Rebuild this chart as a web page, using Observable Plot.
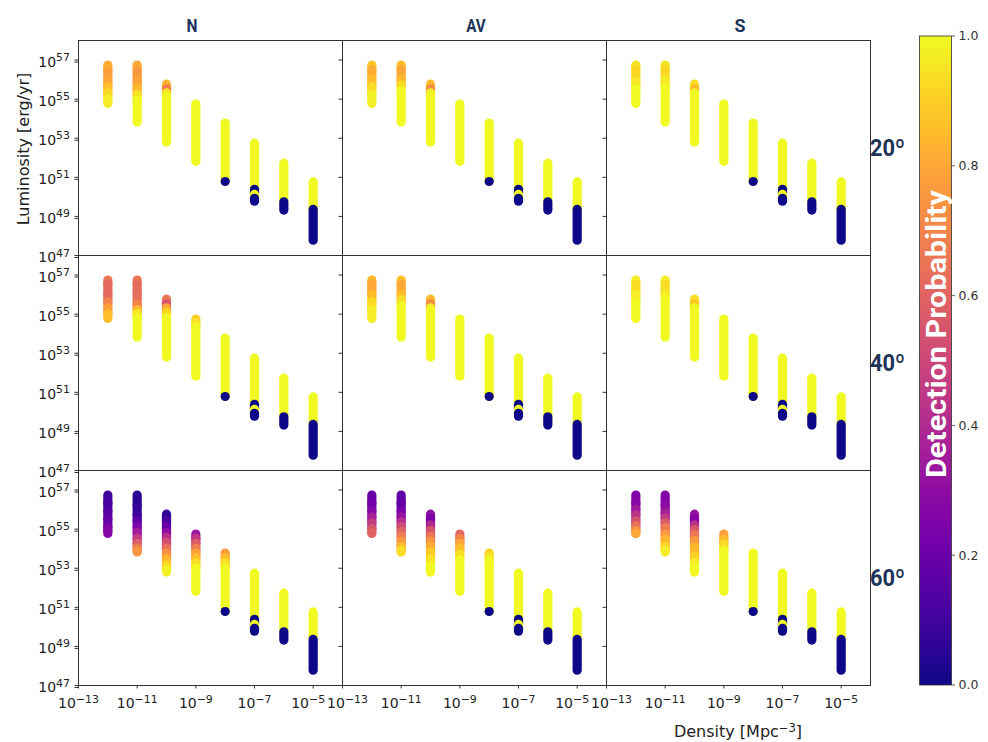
<!DOCTYPE html>
<html><head><meta charset="utf-8">
<script src="https://cdn.jsdelivr.net/npm/d3@7"></script>
<script src="https://cdn.jsdelivr.net/npm/@observablehq/plot@0.6"></script>
<style>
html,body{margin:0;padding:0;background:#fff;}
#wrap{position:relative;width:988px;height:742px;overflow:hidden;background:#fff;}
#wrap > svg{position:absolute;left:0;top:0;}
</style></head><body><div id="wrap"></div>
<script>
// ---------- data ----------
const columns = ["N", "AV", "S"];
const inclinations = ["20º", "40º", "60º"];
const densities = [1e-12, 1e-11, 1e-10, 1e-9, 1e-8, 1e-7, 1e-6, 1e-5];
// log10 luminosity of the lowest point in each density column
const lumBottom = [54.75, 53.81, 52.78, 51.8, 50.76, 49.75, 49.3, 47.76];
const xTicks = [1e-13, 1e-11, 1e-9, 1e-7, 1e-5];
const yTicks = [1e47, 1e49, 1e51, 1e53, 1e55, 1e57];
const probTicks = [0, 0.2, 0.4, 0.6, 0.8, 1.0];

// each stop: [log10 luminosity where a run starts (top), detection probability]
const stopsD5 = [[53.75, 1], [50.76, 0]];
const stopsD6 = [[52.72, 1], [50.36, 0], [50.1, 1], [49.9, 0]];
const stopsD7 = [[51.7, 1], [49.72, 0]];
const stopsD8 = [[50.74, 1], [49.33, 0]];

const N20 = [
  [[56.72, 0.82], [56.4, 0.78], [55.9, 0.8], [55.6, 0.86], [55.3, 0.92], [55.0, 0.97]],
  [[56.72, 0.8], [56.4, 0.76], [55.9, 0.79], [55.5, 0.85], [55.2, 0.95], [54.9, 1]],
  [[55.74, 0.83], [55.5, 0.68], [55.3, 0.95], [55.1, 1]],
  [[54.72, 1]],
  stopsD5
];
const AV20 = [
  [[56.72, 0.88], [56.5, 0.82], [56.0, 0.86], [55.6, 0.93], [55.2, 0.98]],
  [[56.72, 0.86], [56.5, 0.8], [56.0, 0.85], [55.7, 0.93], [55.4, 1]],
  [[55.74, 0.85], [55.5, 0.72], [55.3, 0.97], [55.1, 1]],
  [[54.72, 1]],
  stopsD5
];
const S20 = [
  [[56.72, 0.95], [56.5, 0.92], [55.9, 0.96], [55.5, 1]],
  [[56.72, 0.95], [56.5, 0.92], [56.0, 0.96], [55.6, 1]],
  [[55.74, 0.93], [55.5, 0.85], [55.3, 1]],
  [[54.72, 1]],
  stopsD5
];
const N40 = [
  [[56.72, 0.66], [56.5, 0.61], [56.0, 0.62], [55.6, 0.7], [55.3, 0.78], [55.0, 0.86]],
  [[56.72, 0.66], [56.5, 0.62], [56.0, 0.63], [55.5, 0.7], [55.2, 0.85], [55.0, 0.95], [54.8, 1]],
  [[55.74, 0.66], [55.5, 0.55], [55.3, 0.8], [55.05, 0.92], [54.8, 1]],
  [[54.72, 0.9], [54.5, 0.96], [54.3, 1]],
  stopsD5
];
const AV40 = [
  [[56.72, 0.84], [56.5, 0.8], [56.0, 0.86], [55.6, 0.93], [55.2, 0.97]],
  [[56.72, 0.86], [56.5, 0.8], [56.0, 0.86], [55.7, 0.93], [55.4, 1]],
  [[55.74, 0.84], [55.5, 0.72], [55.3, 0.97], [55.1, 1]],
  [[54.72, 1]],
  stopsD5
];
const S40 = [
  [[56.72, 0.97], [56.5, 0.93], [56.0, 0.97], [55.6, 1]],
  [[56.72, 0.97], [56.5, 0.93], [56.0, 0.97], [55.7, 1]],
  [[55.74, 0.93], [55.5, 0.88], [55.3, 1]],
  [[54.72, 1]],
  stopsD5
];
const N60 = [
  [[56.72, 0.1], [56.3, 0.12], [55.9, 0.15], [55.5, 0.19], [55.1, 0.23], [54.9, 0.27]],
  [[56.72, 0.05], [56.2, 0.07], [55.7, 0.1], [55.4, 0.17], [55.1, 0.25], [54.8, 0.35], [54.5, 0.47], [54.25, 0.58], [54.0, 0.68], [53.85, 0.75]],
  [[55.74, 0.07], [55.4, 0.12], [55.1, 0.2], [54.8, 0.3], [54.55, 0.42], [54.3, 0.53], [54.0, 0.64], [53.75, 0.74], [53.45, 0.84], [53.15, 0.92], [52.9, 0.98]],
  [[54.72, 0.33], [54.5, 0.45], [54.25, 0.56], [54.0, 0.68], [53.75, 0.78], [53.5, 0.86], [53.25, 0.94], [53.0, 1]],
  [[53.75, 0.77], [53.5, 0.86], [53.25, 0.94], [53.0, 1], [50.76, 0]]
];
const AV60 = [
  [[56.72, 0.2], [56.3, 0.22], [55.9, 0.28], [55.6, 0.36], [55.3, 0.46], [55.0, 0.55], [54.8, 0.6]],
  [[56.72, 0.17], [56.3, 0.19], [55.9, 0.24], [55.6, 0.32], [55.35, 0.42], [55.1, 0.52], [54.85, 0.6], [54.6, 0.68], [54.35, 0.76], [54.1, 0.85], [53.9, 0.93]],
  [[55.74, 0.3], [55.5, 0.24], [55.2, 0.4], [54.9, 0.55], [54.6, 0.66], [54.35, 0.75], [54.1, 0.82], [53.8, 0.89], [53.45, 0.95], [53.1, 1]],
  [[54.72, 0.6], [54.5, 0.7], [54.25, 0.79], [54.0, 0.87], [53.7, 0.94], [53.4, 1]],
  [[53.75, 0.92], [53.5, 0.97], [53.3, 1], [50.76, 0]]
];
const S60 = [
  [[56.72, 0.26], [56.3, 0.28], [56.0, 0.34], [55.7, 0.43], [55.4, 0.54], [55.15, 0.65], [54.9, 0.74], [54.75, 0.8]],
  [[56.72, 0.26], [56.2, 0.3], [55.8, 0.36], [55.55, 0.45], [55.3, 0.57], [55.05, 0.68], [54.7, 0.76], [54.45, 0.84], [54.1, 0.91], [53.9, 0.97]],
  [[55.74, 0.32], [55.5, 0.27], [55.2, 0.43], [54.95, 0.56], [54.7, 0.66], [54.4, 0.76], [54.05, 0.84], [53.6, 0.91], [53.25, 0.97], [53.0, 1]],
  [[54.72, 0.78], [54.45, 0.86], [54.2, 0.93], [53.9, 1]],
  stopsD5
];

// ---------- tables for Plot ----------
const panelStops = [N20, AV20, S20, N40, AV40, S40, N60, AV60, S60];
const runs = [];
panelStops.forEach((stops, k) => {
  const col = columns[k % 3], row = inclinations[Math.floor(k / 3)];
  [...stops, stopsD6, stopsD7, stopsD8].forEach((s, i) => {
    s.forEach(([l, p], j) => {
      const lo = j + 1 < s.length ? s[j + 1][0] : lumBottom[i];
      runs.push({col, row, density: densities[i], top: 10 ** l, bottom: 10 ** lo, p});
    });
  });
});

const sup = e => "10^" + (e < 0 ? "\u2212" + (-e) : e);
const fmt = d => sup(Math.round(Math.log10(d)));

// x tick labels for the bottom row; labels at shared panel edges nudged apart
const xLabels = columns.flatMap((c, ci) => xTicks.map(t => ({
  col: c, x: t, label: fmt(t),
  shift: (t === xTicks[0] && ci > 0) ? 1 : (t === xTicks[xTicks.length - 1] && ci < columns.length - 1) ? -1 : 0
})));
const bottomRow = inclinations[inclinations.length - 1];
const xLabelMark = (shift, dx) => Plot.text(xLabels.filter(d => d.shift === shift), {
  x: "x", text: "label", fx: "col", fy: () => bottomRow, frameAnchor: "bottom",
  lineAnchor: "top", dy: 13, dx, fontSize: 14, fill: "#222"
});

const chart = Plot.plot({
  width: 988, height: 742,
  marginLeft: 77, marginRight: 117, marginTop: 40, marginBottom: 57,
  style: {fontFamily: "'DejaVu Sans', sans-serif", fontSize: "14px", color: "#222", background: "transparent"},
  x: {type: "log", domain: [1e-13, 1e-4], label: null},
  y: {type: "log", domain: [1e47, 1e58], label: null},
  fx: {domain: columns, padding: 0, axis: null},
  fy: {domain: inclinations, padding: 0, axis: null},
  color: {type: "linear", scheme: "plasma", domain: [0, 1]},
  marks: [
    Plot.ruleX(runs, {x: "density", y1: "top", y2: "bottom", fx: "col", fy: "row",
      stroke: "p", strokeWidth: 9.2, strokeLinecap: "round"}),
    Plot.frame({stroke: "#333", strokeWidth: 1}),
    Plot.axisY({ticks: yTicks, anchor: "left", tickSize: 3.5, tickFormat: () => "", label: null, facetAnchor: null, stroke: "#333"}),
    Plot.axisY({ticks: yTicks, anchor: "left", tickSize: 3.5, tickPadding: 5, tickFormat: fmt, label: null, facetAnchor: "left", fontSize: 14, dy: 2, stroke: "#333"}),
    Plot.axisX({ticks: xTicks, anchor: "bottom", tickSize: 3.5, tickFormat: () => "", label: null, facetAnchor: "bottom", stroke: "#333"}),
    xLabelMark(0, 0), xLabelMark(1, 5), xLabelMark(-1, -5)
  ]
});

// superscript exponents in tick labels
d3.select(chart).selectAll("text").each(function () {
  const m = /^10\^(.+)$/.exec(this.textContent);
  if (!m) return;
  const el = d3.select(this);
  el.text(null);
  el.append("tspan").text("10");
  el.append("tspan").attr("dy", "-0.5em").attr("font-size", "0.78em").text(m[1]);
});

const wrap = document.getElementById("wrap");
wrap.appendChild(chart);

// ---------- overlay: titles, labels, colorbar ----------
const ov = d3.create("svg").attr("width", 988).attr("height", 742)
  .style("font-family", "'DejaVu Sans', sans-serif");
const condensed = "Roboto, 'Noto Sans', sans-serif";
const navy = "#1d3358";

const titleX = [192, 476, 740];
const titleW = [11, 19.5, 11];
columns.forEach((c, i) => ov.append("text").attr("x", titleX[i]).attr("y", 32)
  .attr("text-anchor", "middle").attr("font-family", condensed).attr("font-weight", 700)
  .attr("font-size", 18.5).attr("fill", navy)
  .attr("textLength", titleW[i]).attr("lengthAdjust", "spacingAndGlyphs").text(c));

const rowY = [156, 371, 586];
inclinations.forEach((r, i) => ov.append("text").attr("x", 870).attr("y", rowY[i])
  .attr("font-family", condensed).attr("font-weight", 700)
  .attr("font-size", 24).attr("fill", navy)
  .attr("textLength", 35).attr("lengthAdjust", "spacingAndGlyphs").text(r));

ov.append("text").attr("transform", "translate(29,149) rotate(-90)").attr("text-anchor", "middle")
  .attr("font-size", 16).attr("fill", "#222").text("Luminosity [erg/yr]");

const dl = ov.append("text").attr("x", 738).attr("y", 737).attr("text-anchor", "middle")
  .attr("font-size", 16).attr("fill", "#222");
dl.append("tspan").text("Density [Mpc");
dl.append("tspan").attr("dy", "-0.45em").attr("font-size", "0.72em").text("\u22123");
dl.append("tspan").attr("dy", "0.32em").text("]");

// colorbar
const cbX = 919.5, cbW = 32, cbTop = 36, cbBot = 685;
const cy = d3.scaleLinear().domain([0, 1]).range([cbBot, cbTop]);
const grad = ov.append("defs").append("linearGradient").attr("id", "cbgrad")
  .attr("x1", 0).attr("y1", 1).attr("x2", 0).attr("y2", 0);
d3.range(0, 1.0001, 0.05).forEach(t => grad.append("stop").attr("offset", t).attr("stop-color", d3.interpolatePlasma(t)));
ov.append("rect").attr("x", cbX).attr("y", cbTop).attr("width", cbW).attr("height", cbBot - cbTop)
  .attr("fill", "url(#cbgrad)").attr("stroke", "#333").attr("stroke-width", 0.8);
probTicks.forEach(t => {
  ov.append("line").attr("x1", cbX + cbW).attr("x2", cbX + cbW + 3.5).attr("y1", cy(t)).attr("y2", cy(t))
    .attr("stroke", "#333").attr("stroke-width", 0.8);
  ov.append("text").attr("x", cbX + cbW + 7).attr("y", cy(t)).attr("dy", "0.35em")
    .attr("font-size", 12.5).attr("fill", "#333").text(t.toFixed(1));
});
ov.append("text").attr("transform", "translate(946,334) rotate(-90)").attr("text-anchor", "middle")
  .attr("font-family", condensed).attr("font-weight", 700).attr("font-size", 28)
  .attr("textLength", 288).attr("lengthAdjust", "spacingAndGlyphs")
  .attr("fill", "#fff").text("Detection  Probability");

wrap.appendChild(ov.node());
</script></body></html>
